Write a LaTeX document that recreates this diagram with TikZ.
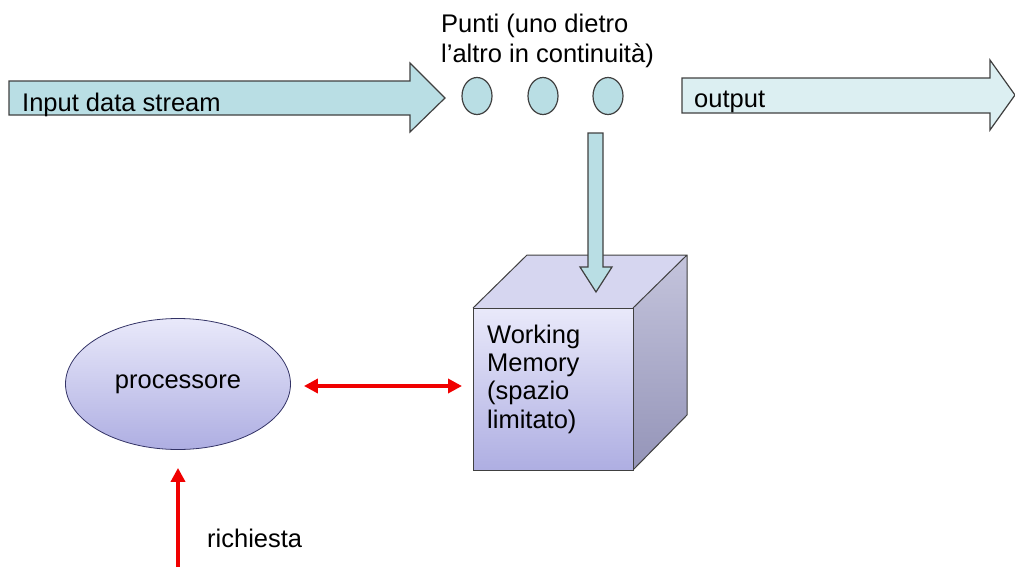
\documentclass[tikz,border=0pt]{standalone}
\usepackage{fontspec}
\setmainfont{Liberation Sans}
\usetikzlibrary{arrows.meta,shapes.geometric}
\definecolor{streamfill}{HTML}{B9DEE4}
\definecolor{outfill}{HTML}{DCEFF2}
\definecolor{edgegrey}{HTML}{404040}
\definecolor{lavtop}{HTML}{E9E9FA}
\definecolor{lavbot}{HTML}{AEAEE2}
\definecolor{sidetop}{HTML}{C4C4DC}
\definecolor{sidebot}{HTML}{9494B8}
\definecolor{topface}{HTML}{D6D6F0}
\definecolor{linkred}{HTML}{F00000}
\tikzset{
  txt/.style={font=\fontsize{25.5}{30}\selectfont, inner sep=0pt, anchor=base west, align=left},
  blockarrow/.style={draw=edgegrey, line width=1.2pt, line join=miter},
  dot/.style={ellipse, draw=edgegrey, line width=1.2pt, fill=streamfill, minimum width=30, minimum height=37, inner sep=0pt},
  redlink/.style={draw=linkred, line width=3.6pt, {Triangle[length=14pt,width=14pt]}-{Triangle[length=14pt,width=14pt]}},
  redin/.style={draw=linkred, line width=3.6pt, -{Triangle[length=14pt,width=14pt]}},
}
\begin{document}
\begin{tikzpicture}[x=1pt,y=-1pt]
\useasboundingbox (0,0) rectangle (1015,574);

% input stream arrow
\draw[blockarrow, fill=streamfill]
  (9,81) -- (410,81) -- (410,63) -- (445,98) -- (410,132) -- (410,115) -- (9,115) -- cycle;
\node[txt] (inlabel) at (22,111) {Input data stream};

% points flowing one after the other
\node[dot] (p1) at (477,96) {};
\node[dot] (p2) at (543,96) {};
\node[dot] (p3) at (608,96) {};
% multi-line nodes: the base anchor sits on the last line
\node[txt] (ptlabel) at (441,62) {Punti (uno dietro\\l’altro in continuità)};

% output arrow
\draw[blockarrow, fill=outfill]
  (682,78) -- (990,78) -- (990,60) -- (1015,95) -- (990,130) -- (990,113) -- (682,113) -- cycle;
\node[txt] (outlabel) at (694,107) {output};

% working memory cube
\fill[topface] (473,308) -- (527,255) -- (687,255) -- (633,308) -- cycle;
\shade[top color=sidetop, bottom color=sidebot] (633,308) -- (687,255) -- (687,415) -- (633,470) -- cycle;
\draw[edgegrey, line width=1pt] (473,308) -- (527,255) -- (687,255) -- (687,415) -- (633,470)
  (633,308) -- (687,255);
\node[draw=edgegrey, line width=1pt, top color=lavtop, bottom color=lavbot,
      minimum width=160, minimum height=162, inner sep=0pt, anchor=north west] (mem) at (473,308) {};
\node[txt, font=\fontsize{25.5}{28.3}\selectfont] (memlabel) at (487,428) {Working\\Memory\\(spazio\\limitato)};

% stream feeding the memory
\draw[blockarrow, fill=streamfill]
  (588,133) -- (603,133) -- (603,267) -- (612,267) -- (596,292) -- (580,267) -- (588,267) -- cycle;

% processor
\node[ellipse, draw=edgegrey!80!blue, line width=0.8pt, top color=lavtop, bottom color=lavbot,
      minimum width=225, minimum height=131, inner sep=0pt, font=\fontsize{25.5}{30}\selectfont]
      (proc) at (178,384) {\raisebox{-2pt}{processore}};

% exchange between processor and memory
\draw[redlink, shorten <=13pt, shorten >=11pt] (proc.east |- 0,386) -- (mem.west |- 0,386);

% incoming request
\coordinate (req) at (178,567);
\draw[redin, shorten >=18pt] (req) -- (proc.south);
\node[txt] (reqlabel) at (207,547) {richiesta};
\end{tikzpicture}
\end{document}
